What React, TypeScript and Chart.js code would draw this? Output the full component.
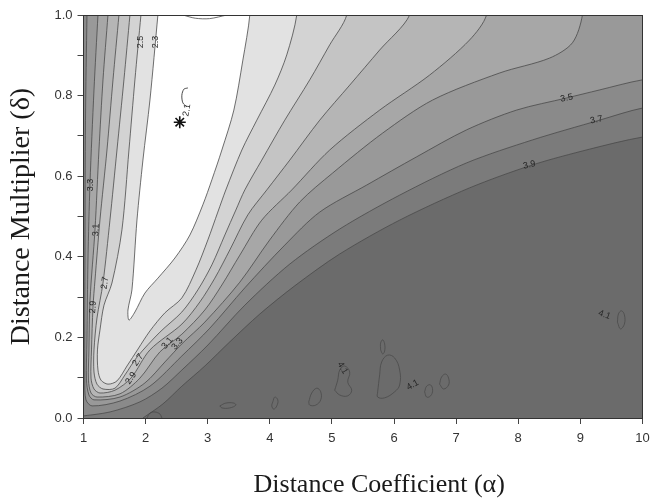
import React, { useEffect, useRef } from 'react';
import { Chart, registerables } from 'chart.js';

Chart.register(...registerables);

type P = [number, number];

// ---- axis ticks ----
const xTickValues = [1, 2, 3, 4, 5, 6, 7, 8, 9, 10];
const yLabelEvery = 2; // labels on every 2nd 0.1 tick

// ---- contour levels (filled regions are "value < level") ----
const levels = [2.3, 2.5, 2.7, 2.9, 3.1, 3.3, 3.5, 3.7, 3.9];

// contour lines, [alpha, delta]
const c23: P[] = [[2.198,1.0],[2.070,0.789],[1.957,0.640],[1.861,0.491],[1.780,0.318],[1.716,0.268],[1.732,0.243],[1.828,0.263],[1.989,0.310],[2.198,0.347],[2.472,0.397],[2.713,0.454],[2.922,0.529],[3.067,0.591],[3.228,0.665],[3.421,0.764],[3.566,0.888],[3.678,1.0]];
const c25: P[] = [[1.925,1.0],[1.828,0.839],[1.732,0.665],[1.619,0.467],[1.458,0.335],[1.330,0.280],[1.265,0.218],[1.225,0.169],[1.233,0.119],[1.281,0.094],[1.394,0.084],[1.539,0.092],[1.700,0.129],[1.877,0.171],[2.070,0.216],[2.311,0.261],[2.584,0.298],[2.810,0.367],[3.003,0.442],[3.163,0.511],[3.292,0.566],[3.550,0.665],[3.791,0.739],[4.080,0.826],[4.273,0.901],[4.434,1.0]];
const c27: P[] = [[1.748,1.0],[1.651,0.839],[1.539,0.665],[1.426,0.491],[1.314,0.335],[1.217,0.248],[1.169,0.169],[1.169,0.114],[1.217,0.084],[1.314,0.072],[1.507,0.074],[1.668,0.107],[1.861,0.151],[2.230,0.213],[2.584,0.263],[2.842,0.318],[3.067,0.380],[3.276,0.454],[3.453,0.516],[3.598,0.566],[3.871,0.640],[4.241,0.739],[4.643,0.839],[4.965,0.926],[5.239,1.0]];
const c29: P[] = [[1.571,1.0],[1.475,0.839],[1.378,0.665],[1.265,0.491],[1.185,0.342],[1.153,0.275],[1.129,0.169],[1.121,0.099],[1.169,0.072],[1.265,0.062],[1.507,0.069],[1.764,0.099],[2.070,0.169],[2.584,0.233],[2.874,0.288],[3.115,0.347],[3.356,0.417],[3.646,0.504],[3.952,0.566],[4.322,0.640],[4.804,0.739],[5.287,0.826],[5.769,0.913],[6.252,1.0]];
const c31: P[] = [[1.394,1.0],[1.314,0.839],[1.249,0.665],[1.185,0.467],[1.105,0.293],[1.088,0.169],[1.080,0.094],[1.121,0.062],[1.217,0.052],[1.587,0.060],[1.909,0.099],[2.230,0.164],[2.584,0.208],[2.954,0.268],[3.228,0.330],[3.517,0.404],[3.871,0.491],[4.354,0.566],[4.965,0.665],[5.769,0.764],[6.574,0.851],[7.217,0.938],[7.490,1.0]];
const c33: P[] = [[1.233,1.0],[1.169,0.814],[1.105,0.583],[1.072,0.392],[1.056,0.194],[1.048,0.094],[1.088,0.057],[1.169,0.045],[1.587,0.052],[1.989,0.087],[2.311,0.139],[2.584,0.184],[2.954,0.238],[3.517,0.337],[3.999,0.442],[4.482,0.536],[5.013,0.608],[5.817,0.707],[6.622,0.789],[7.699,0.856],[8.504,0.893],[8.873,0.931],[9.034,1.0]];
const c35: P[] = [[1.056,1.0],[1.032,0.739],[1.024,0.417],[1.021,0.094],[1.040,0.045],[1.137,0.030],[1.587,0.042],[2.070,0.079],[2.584,0.154],[3.035,0.223],[3.598,0.323],[4.241,0.429],[4.804,0.511],[5.560,0.578],[6.364,0.648],[7.169,0.715],[7.973,0.764],[8.777,0.794],[9.309,0.814],[10.0,0.839]];
const c37: P[] = [[0.944,0.004],[1.426,0.015],[1.909,0.040],[2.263,0.074],[2.584,0.119],[3.003,0.181],[3.598,0.280],[4.322,0.382],[5.126,0.469],[6.091,0.553],[7.169,0.633],[8.230,0.690],[9.309,0.739],[10.0,0.769]];
const c39: P[] = [[1.957,0.0],[2.279,0.035],[2.584,0.079],[2.954,0.129],[3.356,0.189],[3.839,0.258],[4.402,0.328],[5.126,0.407],[6.091,0.491],[7.217,0.571],[8.230,0.628],[9.147,0.667],[10.0,0.697]];

const contours: P[][] = [c23, c25, c27, c29, c31, c33, c35, c37, c39];

// 2.1 contour pieces
const loop21: P[] = [[2.681,0.819],[2.617,0.816],[2.584,0.801],[2.600,0.782],[2.665,0.772]];
const topArc21: P[] = [[2.60,1.0],[2.80,0.992],[3.03,0.991],[3.31,1.0]];
const bottomBump: P[] = [[2.021,0.0],[2.070,0.012],[2.150,0.015],[2.230,0.010],[2.263,0.0]];

// 4.1 islands (closed loops)
const islands41: P[][] = [
  [[3.196,0.030],[3.292,0.037],[3.421,0.037],[3.453,0.032],[3.356,0.025],[3.228,0.025]],
  [[4.048,0.040],[4.080,0.052],[4.129,0.045],[4.113,0.030],[4.064,0.022],[4.032,0.030]],
  [[4.627,0.040],[4.675,0.062],[4.756,0.074],[4.820,0.065],[4.820,0.045],[4.740,0.032],[4.643,0.032]],
  [[5.045,0.069],[5.094,0.094],[5.126,0.119],[5.206,0.129],[5.287,0.114],[5.255,0.089],[5.319,0.069],[5.255,0.055],[5.126,0.057]],
  [[5.785,0.169],[5.785,0.186],[5.817,0.194],[5.849,0.184],[5.849,0.166],[5.817,0.159]],
  [[5.737,0.065],[5.769,0.107],[5.801,0.139],[5.898,0.156],[6.010,0.149],[6.091,0.119],[6.091,0.082],[6.010,0.065],[5.849,0.050],[5.737,0.052]],
  [[6.493,0.065],[6.526,0.079],[6.590,0.082],[6.622,0.069],[6.590,0.055],[6.526,0.052]],
  [[6.734,0.084],[6.767,0.102],[6.831,0.109],[6.879,0.099],[6.879,0.082],[6.799,0.072]],
  [[9.598,0.238],[9.614,0.258],[9.662,0.266],[9.710,0.256],[9.710,0.233],[9.646,0.221]],
];

// minimum marker
const minPoint: P = [2.55, 0.734];

// contour labels [text, alpha, delta, angleDeg]
const labelTexts = ['2.5', '2.3', '2.1', '3.3', '3.1', '2.7', '2.9', '2.9', '2.7', '3.1', '3.3', '3.5', '3.7', '3.9', '4.1', '4.1', '4.1'];
const labelAlpha = [1.925, 2.166, 2.665, 1.105, 1.201, 1.346, 1.153, 1.764, 1.877, 2.35, 2.51, 8.78, 9.26, 8.18, 5.17, 6.30, 9.39];
const labelDelta = [0.933, 0.933, 0.764, 0.578, 0.467, 0.335, 0.275, 0.099, 0.144, 0.186, 0.184, 0.794, 0.740, 0.628, 0.124, 0.082, 0.256];
const labelAngle = [-90, -90, -80, -90, -88, -82, -86, -55, -55, -50, -50, -12, -12, -12, 60, -30, 20];

// ---- styles ----
const bandColors = ['#ffffff', '#e2e2e2', '#d3d3d3', '#c4c4c4', '#b5b5b5', '#a7a7a7', '#999999', '#8a8a8a', '#7b7b7b'];
const floorColor = '#6b6b6b';
const lineColor = '#4a4a4a';
const sansFont = "Arial, 'Liberation Sans', sans-serif";
const serifFont = "'Times New Roman', 'Liberation Serif', serif";

const OUT_T = 1.08, OUT_B = -0.08, OUT_L = 0.7, OUT_R = 10.3;

function regionPolygon(line: P[]): P[] {
  const a = line[0];
  const b = line[line.length - 1];
  const pts: P[] = [...line];
  if (b[0] >= 10) pts.push([OUT_R, b[1]], [OUT_R, OUT_T]);
  else pts.push([b[0], OUT_T]);
  if (a[1] >= 1) pts.push([a[0], OUT_T]);
  else if (a[1] <= 0) pts.push([OUT_L, OUT_T], [OUT_L, OUT_B], [a[0], OUT_B]);
  else pts.push([OUT_L, OUT_T], [OUT_L, a[1]]);
  return pts;
}

const toXY = (pts: P[]) => pts.map(([x, y]) => ({ x, y }));

export default function App() {
  const ref = useRef<HTMLCanvasElement>(null);

  useEffect(() => {
    if (!ref.current) return;

    const lineBase = {
      type: 'line' as const,
      showLine: true,
      pointRadius: 0,
      pointHoverRadius: 0,
      borderColor: lineColor,
      borderWidth: 0.8,
      tension: 0.3,
      capBezierPoints: false,
    };

    const datasets: any[] = [];
    datasets.push({
      type: 'scatter',
      label: 'minimum',
      data: [{ x: minPoint[0], y: minPoint[1] }],
      pointStyle: 'star',
      pointRadius: 6,
      pointBorderWidth: 1.6,
      pointBorderColor: '#111',
      pointBackgroundColor: '#111',
    });
    datasets.push({ ...lineBase, label: '2.1', data: toXY(loop21), fill: false, borderWidth: 1 });
    datasets.push({ ...lineBase, label: '2.1 top', data: toXY(topArc21), fill: false });
    datasets.push({ ...lineBase, label: 'bump', data: toXY(bottomBump), fill: false });
    islands41.forEach((isl, i) => {
      datasets.push({ ...lineBase, label: '4.1 #' + i, data: toXY([...isl, isl[0]]), fill: false, tension: 0.4 });
    });
    contours.forEach((c, i) => {
      datasets.push({
        ...lineBase,
        label: 'v < ' + levels[i],
        data: toXY(regionPolygon(c)),
        fill: 'shape',
        backgroundColor: bandColors[i],
      });
    });

    const floorPlugin = {
      id: 'floor',
      beforeDatasetsDraw(chart: any) {
        const { ctx, chartArea: a } = chart;
        ctx.save();
        ctx.fillStyle = floorColor;
        ctx.fillRect(a.left, a.top, a.right - a.left, a.bottom - a.top);
        ctx.restore();
      },
    };

    const labelPlugin = {
      id: 'contourLabels',
      afterDatasetsDraw(chart: any) {
        const { ctx, scales } = chart;
        ctx.save();
        ctx.font = '9px ' + sansFont;
        ctx.fillStyle = '#262626';
        ctx.textAlign = 'center';
        ctx.textBaseline = 'middle';
        labelTexts.forEach((t, i) => {
          ctx.save();
          ctx.translate(scales.x.getPixelForValue(labelAlpha[i]), scales.y.getPixelForValue(labelDelta[i]));
          ctx.rotate((labelAngle[i] * Math.PI) / 180);
          ctx.fillText(t, 0, 0);
          ctx.restore();
        });
        ctx.restore();
      },
    };

    const chart = new Chart(ref.current, {
      type: 'scatter',
      data: { datasets },
      plugins: [floorPlugin, labelPlugin],
      options: {
        animation: false,
        responsive: true,
        maintainAspectRatio: false,
        events: [],
        layout: { padding: { left: 0, top: 15, right: 7, bottom: 0 } },
        plugins: { legend: { display: false }, tooltip: { enabled: false } },
        scales: {
          x: {
            type: 'linear',
            position: 'bottom',
            min: 1,
            max: 10,
            afterBuildTicks: (s: any) => { s.ticks = xTickValues.map((v) => ({ value: v })); },
            afterFit: (s: any) => { s.height = 82; s.paddingLeft = 0; s.paddingRight = 0; },
            ticks: { autoSkip: false, maxRotation: 0, padding: 7, color: '#333', font: { family: sansFont, size: 13 } },
            grid: { drawOnChartArea: false, drawTicks: true, tickLength: 6, color: '#444' },
            border: { display: true, color: '#333', width: 1, z: 1 },
            title: {
              display: true,
              text: '\u00A0\u00A0\u00A0\u00A0\u00A0Distance Coefficient (α)',
              color: '#1a1a1a',
              font: { family: serifFont, size: 26, lineHeight: 1.2 },
              padding: { top: 0, bottom: -1 },
            },
          },
          y: {
            type: 'linear',
            position: 'left',
            min: 0,
            max: 1,
            afterFit: (s: any) => { s.width = 83.5; s.paddingTop = 0; s.paddingBottom = 0; },
            ticks: {
              stepSize: 0.1,
              autoSkip: false,
              padding: 5,
              color: '#333',
              font: { family: sansFont, size: 13 },
              callback: (v: any, i: number) => (i % yLabelEvery === 0 ? Number(v).toFixed(1) : ''),
            },
            grid: { drawOnChartArea: false, drawTicks: true, tickLength: 6, color: '#444' },
            border: { display: true, color: '#333', width: 1, z: 1 },
            title: {
              display: true,
              text: 'Distance Multiplier (δ)',
              color: '#1a1a1a',
              font: { family: serifFont, size: 28, lineHeight: 1.2 },
              padding: { top: 5, bottom: 0 },
            },
          },
          x2: {
            type: 'linear',
            position: 'top',
            min: 1,
            max: 10,
            afterFit: (s: any) => { s.height = 0; s.paddingLeft = 0; s.paddingRight = 0; },
            ticks: { display: false },
            grid: { display: false, drawTicks: false },
            border: { display: true, color: '#333', width: 1, z: 1 },
          },
          y2: {
            type: 'linear',
            position: 'right',
            min: 0,
            max: 1,
            afterFit: (s: any) => { s.width = 0; s.paddingTop = 0; s.paddingBottom = 0; },
            ticks: { display: false },
            grid: { display: false, drawTicks: false },
            border: { display: true, color: '#333', width: 1, z: 1 },
          },
        },
      } as any,
    });

    return () => chart.destroy();
  }, []);

  return (
    <div style={{ position: 'absolute', left: 0, top: 0, width: 650, height: 500, background: '#fff' }}>
      <canvas ref={ref} />
    </div>
  );
}
